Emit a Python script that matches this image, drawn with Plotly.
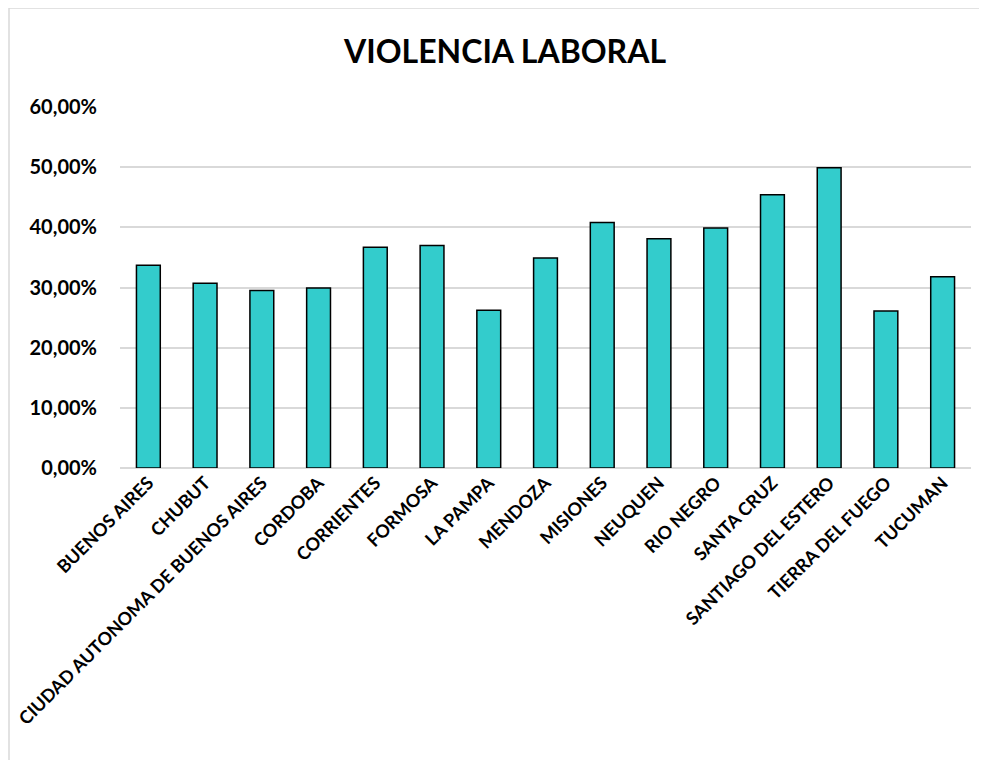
import plotly.graph_objects as go

categories = ["BUENOS AIRES", "CHUBUT", "CIUDAD AUTONOMA DE BUENOS AIRES", "CORDOBA",
              "CORRIENTES", "FORMOSA", "LA PAMPA", "MENDOZA", "MISIONES", "NEUQUEN",
              "RIO NEGRO", "SANTA CRUZ", "SANTIAGO DEL ESTERO", "TIERRA DEL FUEGO", "TUCUMAN"]
values = [0.337, 0.307, 0.295, 0.299, 0.367, 0.370, 0.262, 0.349, 0.408, 0.381,
          0.399, 0.454, 0.499, 0.261, 0.318]
y_ticks = [0, 0.1, 0.2, 0.3, 0.4, 0.5, 0.6]

FONT = "Lato, Calibri, Carlito, sans-serif"

fig = go.Figure(go.Bar(
    x=categories, y=values,
    marker=dict(color="#33CCCC", line=dict(color="black", width=1.5)),
))

# page has an 8px body margin; figure sized to fit inside the window
OFF = 8
W, H = 987 - OFF, 760 - OFF
L, T = 120 - OFF, 107 - OFF
R = W - (971 - OFF)
B = H - (468 - OFF)
pw, ph = W - L - R, H - T - B

def px(x):  # page x -> paper
    return (x - OFF - L) / pw

def py(y):  # page y -> paper
    return (H - B - (y - OFF)) / ph

fig.update_layout(
    width=W, height=H,
    margin=dict(l=L, r=R, t=T, b=B, autoexpand=False),
    paper_bgcolor="white", plot_bgcolor="white",
    separators=",.",
    bargap=0.58,
    showlegend=False,
    font=dict(family=FONT, color="black"),
    title=dict(text="<b>VIOLENCIA LABORAL</b>", x=px(505), xref="paper", xanchor="center",
               y=1 - (52 - OFF) / H, yanchor="middle", font=dict(size=32, family=FONT, color="black")),
    xaxis=dict(tickangle=-45, tickfont=dict(size=18, family=FONT, color="black", weight="bold"),
               showgrid=False, showline=False, ticks="", ticklen=0, automargin=False),
    yaxis=dict(range=[0, 0.6], tickvals=y_ticks, tickformat=".2%",
               tickfont=dict(size=20, family=FONT, color="black", weight="bold"),
               showgrid=True, gridcolor="#d9d9d9", gridwidth=1.5,
               zeroline=True, zerolinecolor="#d9d9d9", zerolinewidth=1.5,
               showline=False, ticks="", ticklabelstandoff=22, automargin=False),
    shapes=[dict(type="rect", xref="paper", yref="paper",
                 x0=px(9), x1=px(1000), y0=py(780), y1=py(8),
                 line=dict(color="#d9d9d9", width=1.5), layer="below")],
)

fig.write_html("out.html")
